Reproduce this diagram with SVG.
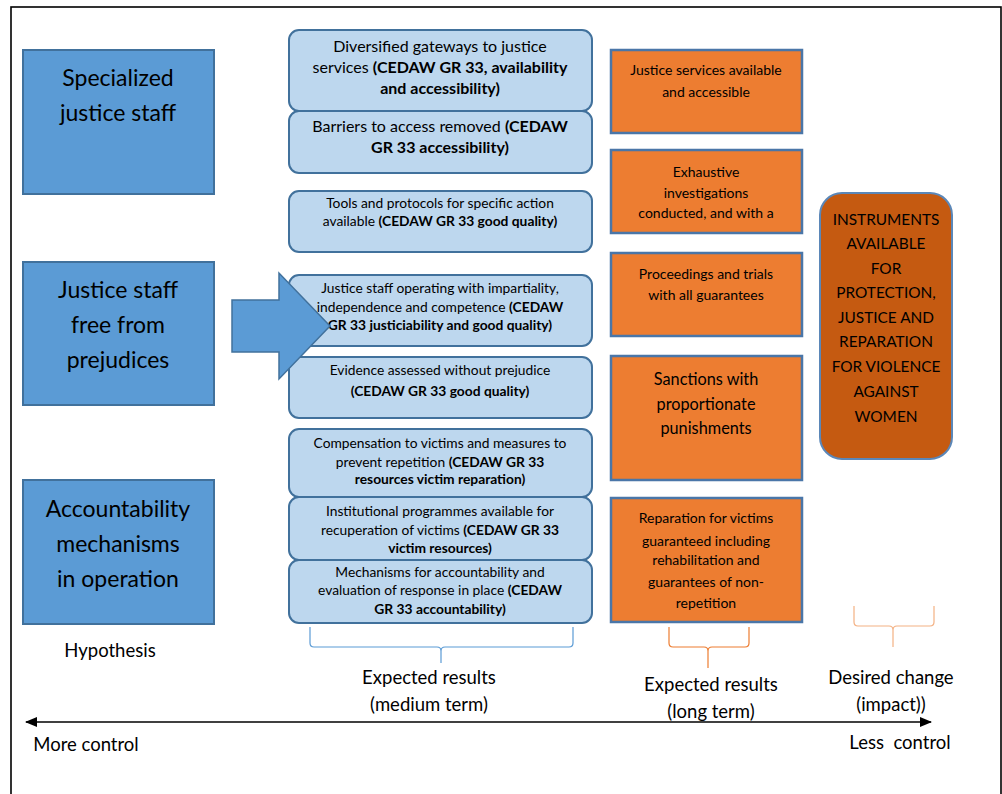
<svg xmlns="http://www.w3.org/2000/svg" width="1002" height="794" viewBox="0 0 1002 794">
<defs>
<style>
text{font-family:Lato,"Liberation Sans",sans-serif;fill:#000;text-anchor:middle}
.hyp{fill:#5B9BD5;stroke:#41719C;stroke-width:2}
.mid{fill:#BDD7EE;stroke:#41719C;stroke-width:2}
.org{fill:#ED7D31;stroke:#4A76A8;stroke-width:2.5}
.imp{fill:#C55A11;stroke:#5B87B8;stroke-width:2}
.b{font-weight:bold}
.big{font-size:23px}
.m1{font-size:16px}
.m2{font-size:13.8px}
.o1{font-size:14px}
.o2{font-size:16.3px}
.cap{font-size:15.4px}
.lab{font-size:18.5px}
.brace{fill:none;stroke-width:1.2}
</style>
<marker id="ah" viewBox="0 0 12 10" refX="11" refY="5" markerWidth="12" markerHeight="10" markerUnits="userSpaceOnUse" orient="auto-start-reverse">
<path d="M0,0 L12,5 L0,10 Z" fill="#000"/>
</marker>
</defs>
<rect width="1002" height="794" fill="#fff"/>
<rect x="11" y="7" width="990" height="800" fill="none" stroke="#000" stroke-width="1.6"/>

<g id="hyp1"><rect class="hyp" x="23" y="50" width="191" height="144"/>
<text class="big" x="118" y="86">Specialized</text><text class="big" x="118" y="121">justice staff</text></g>
<g id="hyp2"><rect class="hyp" x="23" y="262" width="191" height="143"/>
<text class="big" x="118" y="298">Justice staff</text><text class="big" x="118" y="333">free from</text><text class="big" x="118" y="368">prejudices</text></g>
<g id="hyp3"><rect class="hyp" x="23" y="480" width="191" height="144"/>
<text class="big" x="118" y="517">Accountability</text><text class="big" x="118" y="552">mechanisms</text><text class="big" x="118" y="587">in operation</text></g>

<g id="mid1"><rect class="mid" x="289" y="30" width="303" height="81" rx="10"/>
<text class="m1" x="440" y="52">Diversified gateways to justice</text>
<text class="m1" x="440" y="73">services <tspan class="b">(CEDAW GR 33, availability</tspan></text>
<text class="m1 b" x="440" y="94">and accessibility)</text></g>
<g id="mid2"><rect class="mid" x="289" y="111" width="303" height="62" rx="10"/>
<text class="m1" x="440" y="132">Barriers to access removed <tspan class="b">(CEDAW</tspan></text>
<text class="m1 b" x="440" y="153">GR 33 accessibility)</text></g>
<g id="mid3"><rect class="mid" x="289" y="191" width="303" height="61" rx="10"/>
<text class="m2" x="440" y="208">Tools and protocols for specific action</text>
<text class="m2" x="440" y="226">available <tspan class="b">(CEDAW GR 33 good quality)</tspan></text></g>
<g id="mid4"><rect class="mid" x="289" y="275" width="303" height="71" rx="10"/>
<text class="m2" x="440" y="293">Justice staff operating with impartiality,</text>
<text class="m2" x="440" y="312">independence and competence <tspan class="b">(CEDAW</tspan></text>
<text class="m2 b" x="440" y="330">GR 33 justiciability and good quality)</text></g>
<g id="mid5"><rect class="mid" x="289" y="357" width="303" height="61" rx="10"/>
<text class="m2" x="440" y="375">Evidence assessed without prejudice</text>
<text class="m2 b" x="440" y="396">(CEDAW GR 33 good quality)</text></g>
<g id="mid6"><rect class="mid" x="289" y="429" width="303" height="68" rx="10"/>
<text class="m2" x="440" y="448">Compensation to victims and measures to</text>
<text class="m2" x="440" y="467">prevent repetition <tspan class="b">(CEDAW GR 33</tspan></text>
<text class="m2 b" x="440" y="484">resources victim reparation)</text></g>
<g id="mid7"><rect class="mid" x="289" y="497" width="303" height="63" rx="10"/>
<text class="m2" x="440" y="516">Institutional programmes available for</text>
<text class="m2" x="440" y="535">recuperation of victims <tspan class="b">(CEDAW GR 33</tspan></text>
<text class="m2 b" x="440" y="553">victim resources)</text></g>
<g id="mid8"><rect class="mid" x="289" y="560" width="303" height="63" rx="10"/>
<text class="m2" x="440" y="577">Mechanisms for accountability and</text>
<text class="m2" x="440" y="595">evaluation of response in place <tspan class="b">(CEDAW</tspan></text>
<text class="m2 b" x="440" y="614">GR 33 accountability)</text></g>

<g id="long1"><rect class="org" x="611" y="50" width="191" height="83"/>
<text class="o1" x="706" y="75">Justice services available</text><text class="o1" x="706" y="97">and accessible</text></g>
<g id="long2"><rect class="org" x="611" y="150" width="191" height="83"/>
<text class="o1" x="706" y="177">Exhaustive</text><text class="o1" x="706" y="198">investigations</text><text class="o1" x="706" y="218">conducted, and with a</text></g>
<g id="long3"><rect class="org" x="611" y="253" width="191" height="83"/>
<text class="o1" x="706" y="279">Proceedings and trials</text><text class="o1" x="706" y="300">with all guarantees</text></g>
<g id="long4"><rect class="org" x="611" y="356" width="191" height="124"/>
<text class="o2" x="706" y="385">Sanctions with</text><text class="o2" x="706" y="410">proportionate</text><text class="o2" x="706" y="434">punishments</text></g>
<g id="long5"><rect class="org" x="611" y="498" width="191" height="124"/>
<text class="o1" x="706" y="523">Reparation for victims</text><text class="o1" x="706" y="546">guaranteed including</text><text class="o1" x="706" y="565">rehabilitation and</text><text class="o1" x="706" y="587">guarantees of non-</text><text class="o1" x="706" y="608">repetition</text></g>

<g id="impact"><rect class="imp" x="820" y="193" width="132" height="266" rx="22"/>
<text class="cap" x="886" y="225">INSTRUMENTS</text><text class="cap" x="886" y="249">AVAILABLE</text><text class="cap" x="886" y="274">FOR</text><text class="cap" x="886" y="298">PROTECTION,</text><text class="cap" x="886" y="323">JUSTICE AND</text><text class="cap" x="886" y="347">REPARATION</text><text class="cap" x="886" y="372">FOR VIOLENCE</text><text class="cap" x="886" y="397">AGAINST</text><text class="cap" x="886" y="422">WOMEN</text></g>

<g id="bigarrow"><path d="M232,300 L279,300 L279,273 L330,326 L279,379 L279,352 L232,352 Z" fill="#5B9BD5" stroke="#41719C" stroke-width="1.5"/></g>

<g id="connectors">
<path class="brace" stroke="#5B9BD5" d="M310,627 L310,643 Q310,647 314,647 L437,647 Q441,647 441,651 L441,663 M441,651 Q441,647 445,647 L569,647 Q573,647 573,643 L573,627"/>
<path class="brace" stroke="#ED7D31" d="M669,627 L669,643 Q669,647 673,647 L704,647 Q708,647 708,651 L708,668 M708,651 Q708,647 712,647 L745,647 Q749,647 749,643 L749,627"/>
<path class="brace" stroke="#F4B183" d="M854,606 L854,622 Q854,626 858,626 L889,626 Q893,626 893,630 L893,647 M893,630 Q893,626 897,626 L930,626 Q934,626 934,622 L934,606"/>
<line x1="26" y1="722" x2="931" y2="722" stroke="#000" stroke-width="1.5" marker-start="url(#ah)" marker-end="url(#ah)"/>
</g>

<g id="labels">
<text class="lab" x="110" y="657">Hypothesis</text>
<text class="lab" x="429" y="684">Expected results</text><text class="lab" x="429" y="711">(medium term)</text>
<text class="lab" x="711" y="691">Expected results</text><text class="lab" x="711" y="718">(long term)</text>
<text class="lab" x="891" y="684">Desired change</text><text class="lab" x="891" y="711">(impact))</text>
<text class="lab" x="86" y="751">More control</text>
<text class="lab" x="900" y="749" xml:space="preserve">Less  control</text>
</g>
</svg>
